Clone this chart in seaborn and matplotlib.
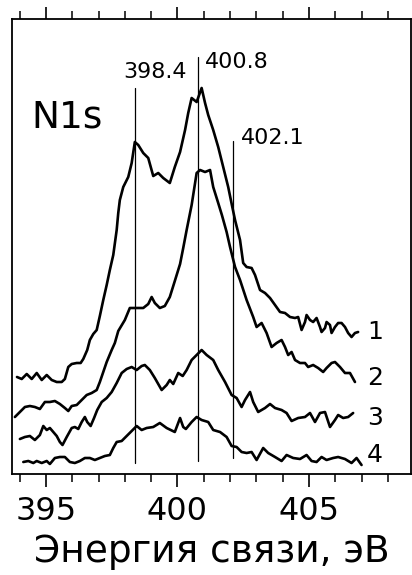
import numpy as np
import pandas as pd
import matplotlib
matplotlib.use("Agg")
import matplotlib.pyplot as plt
import seaborn as sns
from matplotlib.ticker import MultipleLocator

# ---- data ----
e1 = [393.90, 394.08, 394.27, 394.46, 394.65, 394.84, 395.03, 395.22, 395.41, 395.60, 395.72, 395.85,
      395.98, 396.17, 396.32, 396.42, 396.57, 396.67, 396.80, 396.93, 397.05, 397.18, 397.31, 397.43,
      397.56, 397.69, 397.75, 397.81, 397.94, 398.13, 398.26, 398.38, 398.51, 398.70, 398.89, 399.08,
      399.27, 399.46, 399.71, 399.90, 400.10, 400.29, 400.41, 400.54, 400.73, 400.92, 401.05, 401.17,
      401.36, 401.55, 401.74, 401.93, 402.07, 402.19, 402.38, 402.50, 402.63, 402.82, 402.95, 403.14,
      403.33, 403.52, 403.71, 403.90, 404.09, 404.28, 404.47, 404.59, 404.72, 404.85, 404.91, 405.04,
      405.16, 405.29, 405.42, 405.48, 405.61, 405.67, 405.80, 405.86, 405.99, 406.11, 406.24, 406.37,
      406.49, 406.62, 406.75, 406.87]
i1 = [97, 95, 100, 95, 101, 94, 99, 94, 92, 92, 95, 107,
      110, 111, 111, 115, 124, 134, 140, 144, 158, 174, 189, 204,
      219, 244, 261, 274, 287, 297, 311, 332, 329, 321, 316, 298,
      301, 296, 291, 307, 322, 344, 361, 376, 372, 386, 371, 359,
      344, 327, 307, 287, 269, 254, 234, 211, 207, 206, 199, 184,
      181, 176, 169, 162, 161, 157, 156, 157, 144, 152, 159, 154,
      152, 156, 147, 142, 146, 152, 149, 141, 147, 151, 151, 147,
      141, 137, 141, 142]

e2 = [393.82, 394.01, 394.20, 394.39, 394.58, 394.77, 394.96, 395.15, 395.34, 395.53, 395.72, 395.85,
      395.98, 396.17, 396.36, 396.55, 396.74, 396.93, 397.05, 397.18, 397.31, 397.50, 397.62, 397.75,
      398.00, 398.19, 398.38, 398.70, 398.89, 399.02, 399.14, 399.33, 399.52, 399.71, 399.90, 400.10,
      400.22, 400.35, 400.54, 400.73, 400.86, 401.05, 401.24, 401.36, 401.55, 401.69, 401.87, 402.00,
      402.19, 402.38, 402.63, 402.88, 403.01, 403.20, 403.39, 403.58, 403.77, 403.96, 404.09, 404.21,
      404.34, 404.47, 404.66, 404.85, 404.97, 405.16, 405.35, 405.54, 405.67, 405.86, 405.99, 406.18,
      406.37, 406.56, 406.75]
i2 = [57, 62, 67, 68, 67, 65, 72, 72, 73, 70, 66, 63,
      68, 69, 74, 79, 81, 84, 92, 102, 112, 124, 131, 143,
      154, 166, 166, 166, 170, 177, 171, 166, 168, 177, 193, 210,
      226, 244, 269, 301, 304, 302, 304, 287, 271, 259, 242, 227,
      207, 194, 174, 157, 147, 151, 141, 127, 131, 134, 127, 119,
      122, 114, 111, 111, 107, 109, 106, 102, 106, 111, 112, 107,
      101, 101, 92]

e3 = [394.01, 394.20, 394.39, 394.58, 394.77, 394.90, 395.03, 395.15, 395.28, 395.41, 395.53, 395.63,
      395.79, 395.98, 396.10, 396.23, 396.36, 396.48, 396.57, 396.70, 396.83, 396.95, 397.12, 397.31,
      397.50, 397.69, 397.88, 398.07, 398.26, 398.45, 398.64, 398.76, 398.95, 399.14, 399.40, 399.59,
      399.71, 399.84, 400.03, 400.20, 400.35, 400.54, 400.73, 400.92, 401.11, 401.36, 401.55, 401.81,
      402.06, 402.25, 402.44, 402.57, 402.76, 402.88, 403.07, 403.33, 403.52, 403.71, 403.96, 404.15,
      404.34, 404.59, 404.85, 405.04, 405.23, 405.42, 405.61, 405.80, 405.99, 406.11, 406.30, 406.49,
      406.68]
i3 = [35, 37, 38, 34, 39, 48, 44, 46, 42, 38, 32, 29,
      37, 46, 47, 45, 52, 57, 52, 48, 56, 64, 72, 76,
      82, 91, 101, 105, 107, 104, 108, 109, 104, 96, 84, 89,
      94, 90, 101, 98, 104, 114, 119, 124, 119, 114, 104, 92,
      79, 76, 67, 74, 82, 72, 62, 66, 70, 66, 64, 61,
      53, 56, 57, 61, 52, 61, 62, 47, 54, 59, 56, 57,
      61]

e4 = [394.14, 394.33, 394.52, 394.65, 394.84, 395.03, 395.15, 395.34, 395.53, 395.72, 395.91, 396.10,
      396.29, 396.48, 396.67, 396.86, 397.05, 397.24, 397.43, 397.56, 397.69, 397.88, 398.07, 398.26,
      398.45, 398.64, 398.83, 399.08, 399.33, 399.59, 399.90, 400.10, 400.22, 400.32, 400.54, 400.73,
      400.92, 401.17, 401.36, 401.62, 401.87, 402.06, 402.25, 402.44, 402.63, 402.82, 403.01, 403.26,
      403.45, 403.71, 403.96, 404.15, 404.40, 404.66, 404.91, 405.10, 405.29, 405.48, 405.67, 405.92,
      406.11, 406.37, 406.62, 406.81, 407.00]
i4 = [12, 13, 11, 13, 11, 13, 10, 16, 17, 17, 12, 11,
      13, 16, 16, 14, 16, 18, 19, 26, 32, 33, 38, 43,
      48, 44, 46, 47, 51, 46, 42, 56, 47, 45, 52, 57,
      54, 52, 44, 42, 37, 28, 27, 22, 21, 22, 14, 26,
      21, 17, 13, 19, 16, 15, 19, 13, 12, 17, 14, 16,
      17, 15, 11, 16, 9]

curve_labels = ["1", "2", "3", "4"]
label_y = [142, 96, 56, 19]

peak_positions = [398.4, 400.8, 402.1]
peak_labels = ["398.4", "400.8", "402.1"]
peak_line_top = [386, 417, 333]
peak_line_bottom = [11, 13, 16]

major_ticks = [395, 400, 405]
x_label = "Энергия связи, эВ"
spectrum_label = "N1s"

# ---- plotting ----
sns.set_style("white")
plt.rcParams["font.family"] = ["DejaVu Sans"]
plt.rcParams["text.color"] = "black"
plt.rcParams["axes.labelcolor"] = "black"
plt.rcParams["xtick.color"] = "black"

fig = plt.figure(figsize=(4.12, 5.75), dpi=100)
ax = fig.add_axes([12 / 412, 101 / 575, 399 / 412, 455 / 575])

for e, i in [(e1, i1), (e2, i2), (e3, i3), (e4, i4)]:
    df = pd.DataFrame({"E": e, "I": i})
    sns.lineplot(data=df, x="E", y="I", ax=ax, color="black", lw=1.9,
                 estimator=None, sort=False)

for pos, top, bot in zip(peak_positions, peak_line_top, peak_line_bottom):
    ax.plot([pos, pos], [bot, top], color="black", lw=0.9)

ax.text(400.36, 402, peak_labels[0], ha="right", va="center", fontsize=16, color="black")
ax.text(401.05, 412, peak_labels[1], ha="left", va="center", fontsize=16, color="black")
ax.text(402.42, 336, peak_labels[2], ha="left", va="center", fontsize=16, color="black")

ax.text(394.45, 357, spectrum_label, ha="left", va="center", fontsize=27, color="black")

for lab, y in zip(curve_labels, label_y):
    ax.text(407.51, y, lab, ha="center", va="center", fontsize=18, color="black")

ax.set_xlim(393.71, 408.88)
ax.set_ylim(0, 455)
ax.set_xticks(major_ticks)
ax.set_xticklabels([str(t) for t in major_ticks])
ax.xaxis.set_minor_locator(MultipleLocator(1))
ax.set_yticks([])
ax.set_ylabel("")
ax.set_xlabel(x_label, fontsize=27, labelpad=5, color="black")

ax.tick_params(axis="x", which="major", direction="out", length=9, width=1.2,
               labelsize=23, pad=7, top=True, bottom=True, labeltop=False,
               colors="black")
ax.tick_params(axis="x", which="minor", direction="out", length=5.5, width=1.1,
               top=True, bottom=True, colors="black")
for s in ax.spines.values():
    s.set_visible(True)
    s.set_color("black")
    s.set_linewidth(1.3)

fig.savefig("out.png", dpi=100, facecolor="white")
